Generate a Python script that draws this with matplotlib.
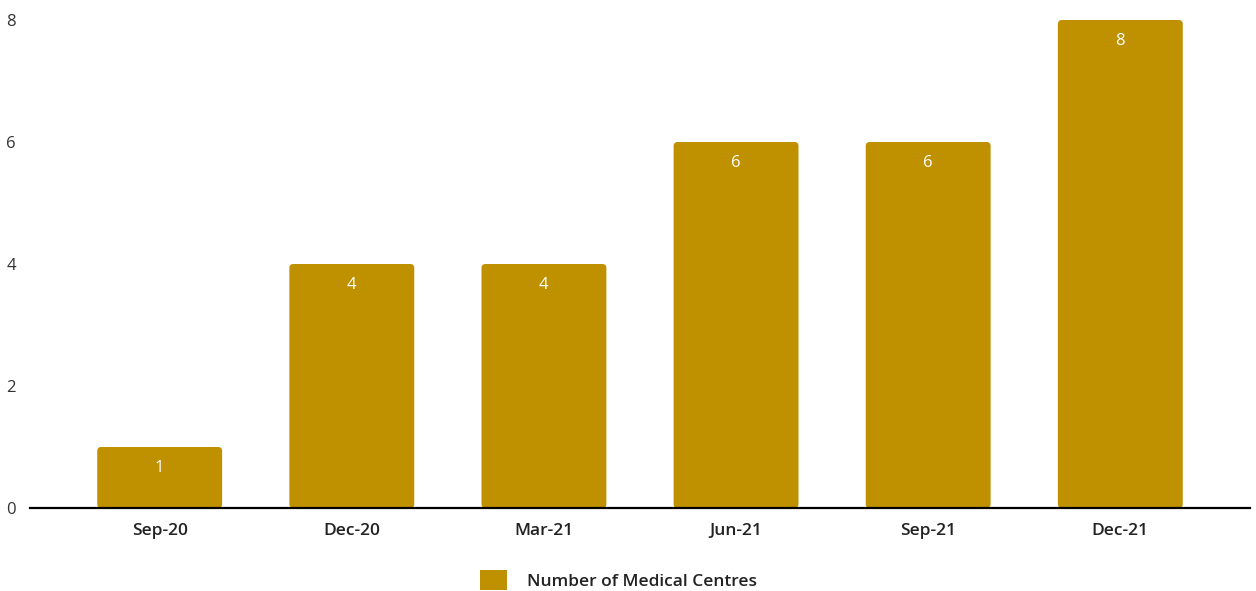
import matplotlib
matplotlib.use("Agg")
import matplotlib.pyplot as plt
from matplotlib.patches import FancyBboxPatch

quarters = ["Sep-20", "Dec-20", "Mar-21", "Jun-21", "Sep-21", "Dec-21"]
centres = [1, 4, 4, 6, 6, 8]
series_name = "Number of Medical Centres"
y_ticks = [0, 2, 4, 6, 8]

BAR_COLOR = "#BF9000"
TEXT_COLOR = "#333333"

plt.rcParams["font.family"] = ["Open Sans", "DejaVu Sans"]

W, H = 1256, 591
fig = plt.figure(figsize=(W / 100, H / 100), dpi=100)
ax = fig.add_axes([30 / W, 1 - 508 / H, 1220 / W, 488 / H])

x = list(range(len(quarters)))
bars = ax.bar(x, centres, width=0.65, color=BAR_COLOR, label=series_name)

# swap plain rectangles for ones with softly rounded corners
px_per_x = 1220 / 6.35
px_per_y = 488 / 8
for b in bars:
    b.set_visible(False)
    rp = FancyBboxPatch((b.get_x(), b.get_y()), b.get_width(), b.get_height(),
                        boxstyle="round,pad=0,rounding_size=%f" % (4 / px_per_x),
                        mutation_aspect=px_per_x / px_per_y,
                        facecolor=BAR_COLOR, edgecolor="none", zorder=2)
    ax.add_patch(rp)

for xi, v in zip(x, centres):
    ax.annotate(str(v), (xi, v), xytext=(0, -21), textcoords="offset pixels",
                ha="center", va="center", color="white", fontsize=12, zorder=3)

ax.set_xlim(-0.675, 5.675)
ax.set_ylim(0, 8)
ax.set_xticks(x)
ax.set_xticklabels(quarters, fontsize=12.5, fontweight="semibold", color="#222222")
ax.set_yticks(y_ticks)
ax.set_yticklabels([str(t) for t in y_ticks], fontsize=12, color=TEXT_COLOR)
ax.tick_params(axis="both", length=0)
ax.tick_params(axis="x", pad=11)
ax.tick_params(axis="y", pad=10)

for s in ["top", "right", "left"]:
    ax.spines[s].set_visible(False)
ax.spines["bottom"].set_linewidth(1.6)
ax.spines["bottom"].set_color("black")
ax.spines["bottom"].set_zorder(4)

handle = plt.Rectangle((0, 0), 1, 1, facecolor=BAR_COLOR, edgecolor="none")
fig.legend([handle], [series_name], loc="center left",
           bbox_to_anchor=(480 / W, 1 - 580 / H), frameon=False,
           handlelength=1.55, handleheight=1.45, handletextpad=1.15, borderpad=0,
           borderaxespad=0,
           prop={"size": 12.5, "weight": "semibold"}, labelcolor="#222222")

fig.savefig("out.png", dpi=100)
